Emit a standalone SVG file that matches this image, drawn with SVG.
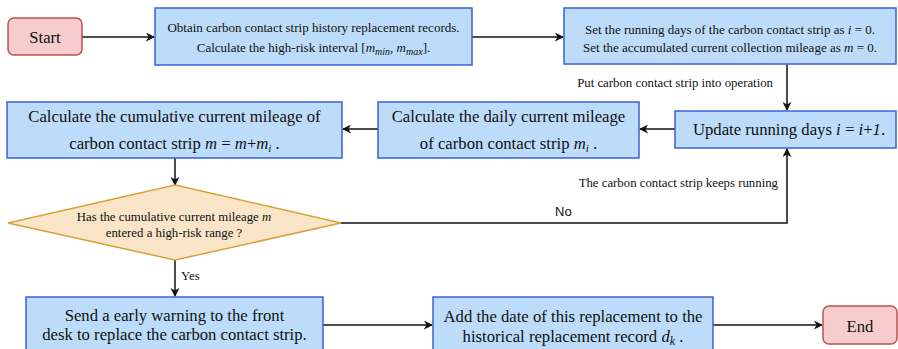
<svg xmlns="http://www.w3.org/2000/svg" width="898" height="349" viewBox="0 0 898 349">
<style>
.proc{fill:#bddcfa;stroke:#3a5fd9;stroke-width:1.5}
.term{fill:#f6cdcc;stroke:#b85450;stroke-width:1.5}
.dec{fill:#fae5c8;stroke:#d6a336;stroke-width:1.5}
.t{font-family:'Liberation Serif','Times New Roman',serif;fill:#111;text-anchor:middle}
.big{font-size:16.7px}
.sm{font-size:13px}
.xs{font-size:12.8px}
.lbl{font-family:'Liberation Serif','Times New Roman',serif;font-size:12.8px;fill:#111}
.sans{font-family:'Liberation Sans',Arial,sans-serif;font-size:13px;fill:#111}
.i{font-style:italic}
.edge{fill:none;stroke:#111;stroke-width:1.5}
</style>
<defs>
<marker id="arr" viewBox="0 0 10 10" refX="9" refY="5" markerWidth="9" markerHeight="9" markerUnits="userSpaceOnUse" orient="auto">
<path d="M0,0 L10,5 L0,10 L3,5 z" fill="#111"/>
</marker>
</defs>
<rect width="898" height="349" fill="#fff"/>
<g id="connectors">
<line class="edge" x1="82" y1="37" x2="154" y2="37" marker-end="url(#arr)"/>
<line class="edge" x1="472" y1="37" x2="563" y2="37" marker-end="url(#arr)"/>
<line class="edge" x1="787" y1="64" x2="787" y2="110" marker-end="url(#arr)"/>
<line class="edge" x1="675" y1="129" x2="640" y2="129" marker-end="url(#arr)"/>
<line class="edge" x1="378" y1="129" x2="343" y2="129" marker-end="url(#arr)"/>
<line class="edge" x1="175" y1="158" x2="175" y2="185" marker-end="url(#arr)"/>
<polyline class="edge" points="341,223 787,223 787,149" marker-end="url(#arr)"/>
<line class="edge" x1="175" y1="260" x2="175" y2="296" marker-end="url(#arr)"/>
<line class="edge" x1="323" y1="325" x2="432" y2="325" marker-end="url(#arr)"/>
<line class="edge" x1="713" y1="325" x2="822" y2="325" marker-end="url(#arr)"/>
<text class="lbl" x="773" y="86.5" text-anchor="end">Put carbon contact strip into operation</text>
<text class="lbl" x="778" y="186.5" text-anchor="end">The carbon contact strip keeps running</text>
<text class="sans" x="555" y="215.5">No</text>
<text class="lbl" x="181" y="279.5">Yes</text>
</g>
<g id="start">
<rect class="term" x="8" y="18" width="74" height="37" rx="6"/>
<text class="t big" x="45" y="42.5">Start</text>
</g>
<g id="obtain">
<rect class="proc" x="155" y="8" width="317" height="57"/>
<text class="t sm" x="313.5" y="31.5">Obtain carbon contact strip history replacement records.</text>
<text class="t sm" x="313.5" y="51.5">Calculate the high-risk interval [<tspan class="i">m</tspan><tspan class="i" font-size="10" dy="3">min</tspan><tspan dy="-3">, </tspan><tspan class="i">m</tspan><tspan class="i" font-size="10" dy="3">max</tspan><tspan dy="-3">].</tspan></text>
</g>
<g id="init">
<rect class="proc" x="564" y="8" width="332" height="56"/>
<text class="t sm" x="730" y="33.5">Set the running days of the carbon contact strip as <tspan class="i">i</tspan> = 0.</text>
<text class="t sm" x="730" y="51.5">Set the accumulated current collection mileage as <tspan class="i">m</tspan> = 0.</text>
</g>
<g id="update">
<rect class="proc" x="675" y="111" width="221" height="37"/>
<text class="t big" x="789" y="135">Update running days <tspan class="i">i</tspan> = <tspan class="i">i</tspan>+<tspan class="i">1</tspan>.</text>
</g>
<g id="daily">
<rect class="proc" x="378" y="102" width="261" height="56"/>
<text class="t big" x="508.5" y="121.5">Calculate the daily current mileage</text>
<text class="t big" x="508.5" y="148.5">of carbon contact strip <tspan class="i">m</tspan><tspan class="i" font-size="11" dy="3">i</tspan><tspan dy="-3">  .</tspan></text>
</g>
<g id="cumulative">
<rect class="proc" x="7" y="102" width="335" height="56"/>
<text class="t big" x="174.5" y="121.5">Calculate the cumulative current mileage of</text>
<text class="t big" x="174.5" y="148.5">carbon contact strip <tspan class="i">m</tspan> = <tspan class="i">m</tspan>+<tspan class="i">m</tspan><tspan class="i" font-size="11" dy="3">i</tspan><tspan dy="-3"> .</tspan></text>
</g>
<g id="decision">
<polygon class="dec" points="175,185 341,223 175,260 8,223"/>
<text class="t xs" x="174" y="220.5">Has the cumulative current mileage <tspan class="i">m</tspan></text>
<text class="t xs" x="174" y="236.5">entered a high-risk range ?</text>
</g>
<g id="warning">
<rect class="proc" x="26" y="297" width="297" height="56"/>
<text class="t big" x="174.5" y="320.5">Send a early warning to the front</text>
<text class="t big" x="174.5" y="339.5">desk to replace the carbon contact strip.</text>
</g>
<g id="record">
<rect class="proc" x="433" y="297" width="280" height="56"/>
<text class="t big" x="573" y="321.5">Add the date of this replacement to the</text>
<text class="t big" x="573" y="341.5">historical replacement record <tspan class="i">d</tspan><tspan class="i" font-size="12" dy="3">k</tspan><tspan dy="-3"> .</tspan></text>
</g>
<g id="end">
<rect class="term" x="823" y="306" width="74" height="38" rx="6"/>
<text class="t big" x="860" y="331.5">End</text>
</g>
</svg>
